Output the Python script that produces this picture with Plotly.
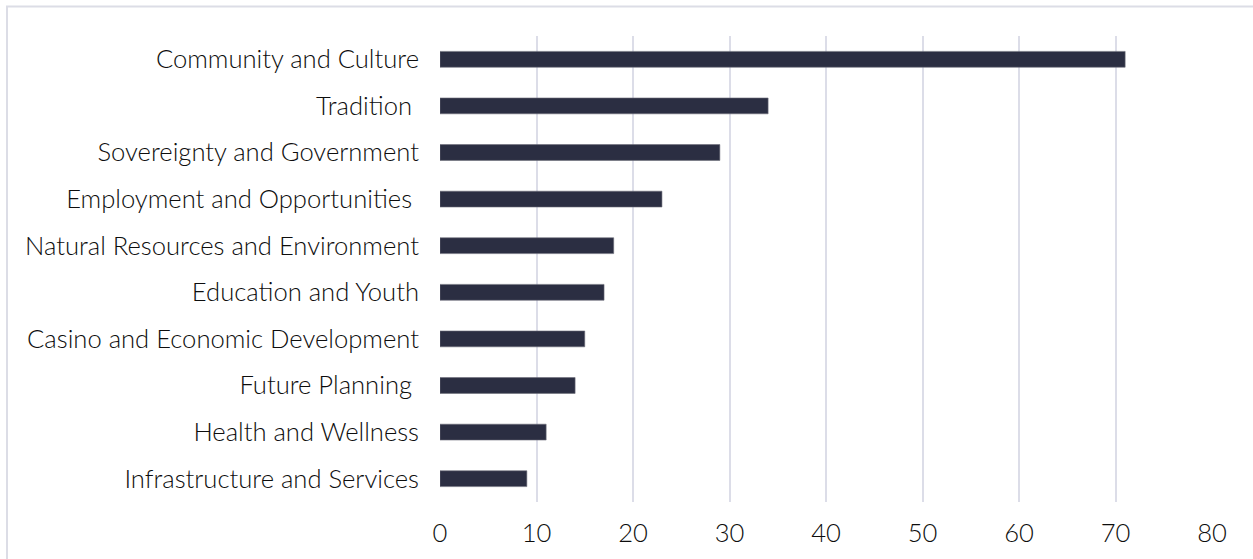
import plotly.graph_objects as go

categories = ["Community and Culture", "Tradition ", "Sovereignty and Government",
              "Employment and Opportunities ", "Natural Resources and Environment",
              "Education and Youth", "Casino and Economic Development",
              "Future Planning ", "Health and Wellness", "Infrastructure and Services"]
values = [71, 34, 29, 23, 18, 17, 15, 14, 11, 9]
x_ticks = [0, 10, 20, 30, 40, 50, 60, 70, 80]

fig = go.Figure(go.Bar(
    y=categories, x=values, orientation="h",
    marker=dict(color="#2b2e42", line=dict(color="#6b6d78", width=0.6)),
))

W, H = 1253, 559
L, R, T, B = 440, 41, 36, 57
pw, ph = W - L - R, H - T - B

def px(x):
    return (x - L) / pw

def py(y):
    return (H - B - y) / ph

fnt = dict(family="Lato", size=25.6, color="#0d0d0d", weight=300)

fig.update_layout(
    width=W, height=H,
    margin=dict(l=L, r=R, t=T, b=B),
    paper_bgcolor="white", plot_bgcolor="white",
    bargap=0.66,
    showlegend=False,
    font=fnt,
    xaxis=dict(range=[0, 80], tickvals=x_ticks, showgrid=True, gridcolor="#dcdde8",
               gridwidth=2, zeroline=False, showline=False, ticks="",
               ticklabelstandoff=13, tickfont=fnt),
    yaxis=dict(categoryorder="array", categoryarray=categories[::-1],
               showgrid=False, zeroline=False, showline=False, ticks="",
               ticklabelstandoff=20, tickfont=fnt),
    shapes=[dict(type="rect", xref="paper", yref="paper",
                 x0=px(7), x1=px(W + 10), y0=py(H + 10), y1=py(6.5),
                 line=dict(color="#dcdde6", width=2), fillcolor="rgba(0,0,0,0)",
                 layer="below")],
)

fig.write_html("out.html", config={"displayModeBar": False},
               post_script="document.body.style.margin='0';document.body.style.overflow='hidden';")
